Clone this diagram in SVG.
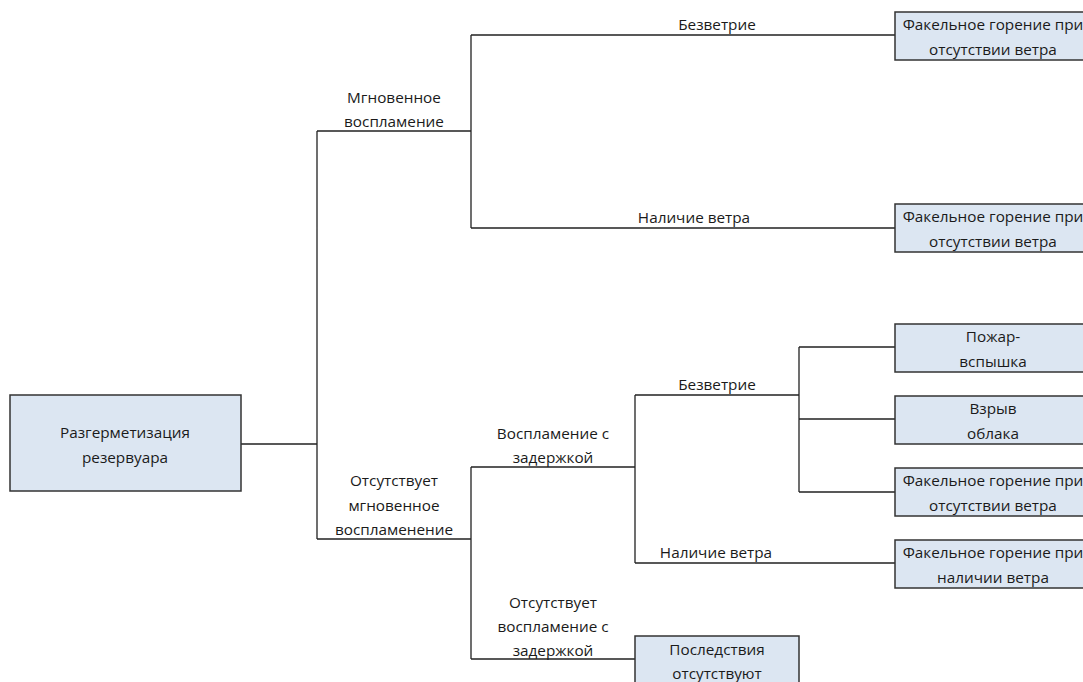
<svg xmlns="http://www.w3.org/2000/svg" width="1083" height="682" viewBox="0 0 1083 682">
<style>
.box{fill:#dce6f2;stroke:#333;stroke-width:1.5}
.ln{fill:none;stroke:#222;stroke-width:1.3}
text{font-family:"Open Sans","Liberation Sans",sans-serif;font-size:15.3px;fill:#1a1a1a;text-anchor:middle;dominant-baseline:central}
</style>
<rect width="1083" height="682" fill="#fff"/>
<g id="connectors" class="ln">
<path d="M241 444H317M317 131V539M317 131H471M471 35V228M471 35H895M471 228H895"/>
<path d="M317 539H471M471 467V659M471 467H635M635 395V563M635 395H799M799 347V492M799 347H895M799 419H895M799 492H895M635 563H895M471 659H635"/>
</g>
<g id="labels">
<text x="717" y="24">Безветрие</text>
<text x="394" y="97">Мгновенное</text>
<text x="394" y="121">воспламение</text>
<text x="694" y="217">Наличие ветра</text>
<text x="717" y="384">Безветрие</text>
<text x="553" y="433">Воспламение с</text>
<text x="553" y="457">задержкой</text>
<text x="394" y="480">Отсутствует</text>
<text x="394" y="505">мгновенное</text>
<text x="394" y="529">воспламенение</text>
<text x="716" y="552">Наличие ветра</text>
<text x="553" y="602">Отсутствует</text>
<text x="553" y="626">воспламение с</text>
<text x="553" y="650">задержкой</text>
</g>
<g id="n-root"><rect class="box" x="10" y="395" width="231" height="96"/><text x="125" y="432">Разгерметизация</text><text x="125" y="457">резервуара</text></g>
<g id="n-f1"><rect class="box" x="895" y="12" width="200" height="48"/><text x="993" y="24">Факельное горение при</text><text x="993" y="49">отсутствии ветра</text></g>
<g id="n-f2"><rect class="box" x="895" y="204" width="200" height="48"/><text x="993" y="216">Факельное горение при</text><text x="993" y="241">отсутствии ветра</text></g>
<g id="n-fire"><rect class="box" x="895" y="324" width="200" height="48"/><text x="993" y="336">Пожар-</text><text x="993" y="361">вспышка</text></g>
<g id="n-expl"><rect class="box" x="895" y="396" width="200" height="48"/><text x="993" y="408">Взрыв</text><text x="993" y="433">облака</text></g>
<g id="n-f3"><rect class="box" x="895" y="468" width="200" height="48"/><text x="993" y="480">Факельное горение при</text><text x="993" y="505">отсутствии ветра</text></g>
<g id="n-f4"><rect class="box" x="895" y="540" width="200" height="48"/><text x="993" y="552">Факельное горение при</text><text x="993" y="577">наличии ветра</text></g>
<g id="n-none"><rect class="box" x="635" y="636" width="164" height="60"/><text x="717" y="649">Последствия</text><text x="717" y="673">отсутствуют</text></g>
</svg>
